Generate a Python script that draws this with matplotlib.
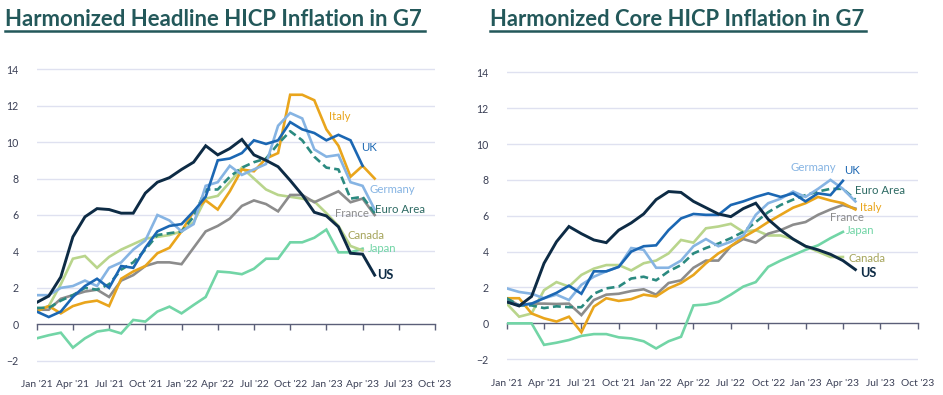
import matplotlib
matplotlib.use("Agg")
import matplotlib.pyplot as plt
from matplotlib.lines import Line2D

plt.rcParams['font.family'] = ['Lato', 'DejaVu Sans']

# month index 0 = Jan '21
tick_labels = ["Jan '21", "Apr '21", "Jul '21", "Oct '21", "Jan '22", "Apr '22",
               "Jul '22", "Oct '22", "Jan '23", "Apr '23", "Jul '23", "Oct '23"]

# headline HICP, % y/y
us_h = [1.2, 1.55, 2.6, 4.8, 5.9, 6.35, 6.3, 6.1, 6.1, 7.2, 7.8, 8.05, 8.5, 8.9, 9.8,
        9.3, 9.65, 10.15, 9.3, 9.0, 8.65, 7.9, 7.1, 6.15, 5.95, 5.35, 3.9, 3.85, 2.7]
uk_h = [0.7, 0.4, 0.7, 1.5, 2.1, 2.5, 2.0, 3.2, 3.1, 4.2, 5.1, 5.4, 5.5, 6.2, 7.0,
        9.0, 9.1, 9.4, 10.1, 9.9, 10.1, 11.1, 10.7, 10.5, 10.1, 10.4, 10.1, 8.7]
italy_h = [0.7, 1.0, 0.6, 1.0, 1.2, 1.3, 1.0, 2.5, 2.9, 3.2, 3.9, 4.2, 5.1, 6.2, 6.8,
           6.3, 7.3, 8.5, 8.4, 9.1, 9.4, 12.6, 12.6, 12.3, 10.7, 9.8, 8.1, 8.7, 8.0]
germany_h = [1.6, 1.6, 2.0, 2.1, 2.4, 2.1, 3.1, 3.4, 4.1, 4.6, 6.0, 5.7, 5.1, 5.5, 7.6,
             7.8, 8.7, 8.2, 8.5, 8.8, 10.9, 11.6, 11.3, 9.6, 9.2, 9.3, 7.8, 7.6, 6.3]
euro_h = [0.9, 0.9, 1.3, 1.6, 2.0, 1.9, 2.2, 3.0, 3.4, 4.1, 4.9, 5.0, 5.1, 5.9, 7.4,
          7.4, 8.1, 8.6, 8.9, 9.1, 9.9, 10.6, 10.1, 9.2, 8.6, 8.5, 6.9, 7.0, 6.1]
france_h = [0.8, 0.8, 1.4, 1.6, 1.8, 1.9, 1.5, 2.4, 2.7, 3.2, 3.4, 3.4, 3.3, 4.2, 5.1,
            5.4, 5.8, 6.5, 6.8, 6.6, 6.2, 7.1, 7.1, 6.7, 7.0, 7.3, 6.7, 6.9, 6.0]
canada_h = [0.8, 1.0, 2.2, 3.6, 3.75, 3.1, 3.7, 4.1, 4.4, 4.7, 4.8, 4.9, 5.1, 5.6, 6.9,
            7.05, 7.8, 8.6, 8.0, 7.4, 7.1, 7.0, 6.9, 6.75, 6.1, 5.4, 4.3, 4.05]
japan_h = [-0.77, -0.6, -0.46, -1.28, -0.77, -0.4, -0.3, -0.5, 0.24, 0.15, 0.7, 0.97,
           0.6, 1.06, 1.5, 2.9, 2.85, 2.75, 3.05, 3.6, 3.6, 4.5, 4.5, 4.75, 5.2, 3.95,
           3.95, 4.15]

# core HICP, % y/y
us_c = [1.2, 0.97, 1.5, 3.35, 4.55, 5.4, 5.0, 4.65, 4.5, 5.2, 5.6, 6.1, 6.9, 7.35, 7.3,
        6.8, 6.45, 6.1, 5.95, 6.4, 6.7, 5.8, 5.2, 4.7, 4.3, 4.1, 3.85, 3.5, 3.0]
uk_c = [1.2, 1.0, 1.1, 1.4, 1.7, 2.1, 1.65, 2.9, 2.9, 3.15, 4.0, 4.3, 4.35, 5.2, 5.85,
        6.1, 6.05, 6.05, 6.6, 6.8, 7.05, 7.25, 7.05, 7.25, 6.8, 7.25, 7.15, 7.95]
germany_c = [1.95, 1.75, 1.65, 1.4, 1.6, 1.3, 2.15, 2.6, 2.9, 3.15, 4.2, 4.1, 3.1, 3.1,
             3.5, 4.3, 4.7, 4.3, 4.55, 4.9, 6.05, 6.7, 6.95, 7.35, 7.05, 7.5, 8.0, 7.5, 6.8]
euro_c = [1.4, 1.0, 1.0, 0.85, 0.95, 0.9, 0.9, 1.65, 1.95, 2.05, 2.5, 2.6, 2.4, 2.9,
          3.25, 3.9, 4.2, 4.45, 4.75, 5.1, 5.65, 6.2, 6.6, 6.9, 7.15, 7.35, 7.5, 7.5, 6.9]
italy_c = [1.4, 1.4, 0.55, 0.28, 0.1, 0.37, -0.5, 0.93, 1.4, 1.25, 1.35, 1.6, 1.5, 1.95,
           2.25, 2.7, 3.35, 3.9, 4.3, 4.8, 5.2, 5.65, 6.05, 6.45, 6.7, 7.05, 6.85, 6.7, 6.35]
france_c = [1.4, 1.0, 1.1, 1.1, 1.08, 1.1, 0.46, 1.3, 1.6, 1.65, 1.8, 1.9, 1.6, 2.25,
            2.4, 3.1, 3.5, 3.5, 4.3, 4.7, 4.5, 5.0, 5.2, 5.5, 5.65, 6.05, 6.35, 6.6, 6.4]
canada_c = [1.1, 0.37, 0.55, 1.85, 2.3, 2.05, 2.7, 3.05, 3.25, 3.25, 2.95, 3.35, 3.5,
            3.9, 4.65, 4.5, 5.3, 5.4, 5.55, 5.1, 5.2, 4.9, 4.9, 4.7, 4.3, 4.0, 3.7, 3.7]
japan_c = [0.0, 0.0, 0.0, -1.2, -1.08, -0.93, -0.7, -0.6, -0.6, -0.78, -0.84, -1.0, -1.4,
           -1.0, -0.75, 1.0, 1.05, 1.2, 1.6, 2.05, 2.3, 3.15, 3.5, 3.8, 4.1, 4.35, 4.75, 5.1]

# line colour, label colour, linestyle, width, bold label
style = {
    "US":        ("#0d2b45", "#0d2b45", "-", 2.1, True),
    "UK":        ("#1b67b3", "#1b67b3", "-", 1.9, False),
    "Germany":   ("#86b4e3", "#86b4e3", "-", 1.9, False),
    "Euro Area": ("#2b8a80", "#2d6a63", "--", 1.9, False),
    "Italy":     ("#e9a51c", "#e9a51c", "-", 1.9, False),
    "France":    ("#8c8c8c", "#8c8c8c", "-", 1.9, False),
    "Canada":    ("#b9d58c", "#a6a55c", "-", 1.9, False),
    "Japan":     ("#72d5a6", "#72d5a6", "-", 1.9, False),
}
draw_order = ["Japan", "Canada", "France", "Italy", "Euro Area", "Germany", "UK", "US"]

headline = {"US": us_h, "UK": uk_h, "Italy": italy_h, "Germany": germany_h,
            "Euro Area": euro_h, "France": france_h, "Canada": canada_h, "Japan": japan_h}
core = {"US": us_c, "UK": uk_c, "Italy": italy_c, "Germany": germany_c,
        "Euro Area": euro_c, "France": france_c, "Canada": canada_c, "Japan": japan_c}

# where the end labels sit (month index, value)
lab_h = {"Italy": (25.1, 11.4), "UK": (27.5, 9.7), "Germany": (29.5, 7.4),
         "Euro Area": (30.1, 6.3), "France": (26.1, 6.1), "Canada": (27.3, 4.9),
         "Japan": (28.6, 4.15), "US": (28.9, 2.7)}
lab_c = {"Germany": (24.6, 8.7), "UK": (27.7, 8.55), "Euro Area": (30.0, 7.4),
         "Italy": (29.2, 6.45), "France": (27.3, 5.9), "Japan": (28.4, 5.15),
         "Canada": (28.9, 3.62), "US": (29.05, 2.82)}

title_col = "#23585a"
grid_col = "#dfe1f0"

fig = plt.figure(figsize=(9.43, 3.95), dpi=100)
ax1 = fig.add_axes([0.0389, 0.0729, 0.4224, 0.7656])
ax2 = fig.add_axes([0.5373, 0.0770, 0.4358, 0.7536])


def draw_panel(ax, data, labels):
    for name in draw_order:
        col, lcol, ls, lw, bold = style[name]
        vals = data[name]
        ax.plot(range(len(vals)), vals, color=col, ls=ls, lw=lw,
                dashes=(3, 1.6) if ls == "--" else (None, None),
                solid_joinstyle="miter", zorder=3)
        x, y = labels[name]
        ax.text(x, y, name, color=lcol, fontsize=8.2 if not bold else 9.2,
                fontweight="bold" if bold else "normal",
                ha="center", va="center", zorder=4)
    ax.set_xlim(0, 33)
    ax.set_ylim(-2.3, 14.3)
    ax.set_yticks(range(-2, 15, 2))
    ax.set_xticks(range(0, 34, 3))
    ax.set_xticklabels(tick_labels)
    for v in range(-2, 15, 2):
        if v != 0:
            ax.axhline(v, color=grid_col, lw=1.0, zorder=1)
    for s in ["top", "right", "left"]:
        ax.spines[s].set_visible(False)
    ax.spines["bottom"].set_position(("data", 0))
    ax.spines["bottom"].set_color("#5b5f78")
    ax.spines["bottom"].set_linewidth(1.0)
    ax.tick_params(axis="x", length=4, width=1.0, color="#5b5f78", pad=36,
                   labelsize=7.4, labelcolor="#3a3f55")
    ax.tick_params(axis="y", length=0, pad=13, labelsize=7.6, labelcolor="#3a3f55")


draw_panel(ax1, headline, lab_h)
draw_panel(ax2, core, lab_c)

titles = [("Harmonized Headline HICP Inflation in G7", 5, 425),
          ("Harmonized Core HICP Inflation in G7", 490, 866)]
W, H = 943, 395
fig.canvas.draw()
r = fig.canvas.get_renderer()
for txt, x0, x1 in titles:
    t = fig.text(x0 / W, 1 - 26 / H, txt, fontsize=14, fontweight="bold",
                 color=title_col, ha="left", va="baseline")
    bb = t.get_window_extent(renderer=r)
    t.set_fontsize(14 * (x1 - x0) / bb.width)
    fig.add_artist(Line2D([x0 / W, x1 / W], [1 - 30.5 / H] * 2, color=title_col,
                          lw=1.8, transform=fig.transFigure))

fig.savefig("out.png", dpi=100, facecolor="white")
